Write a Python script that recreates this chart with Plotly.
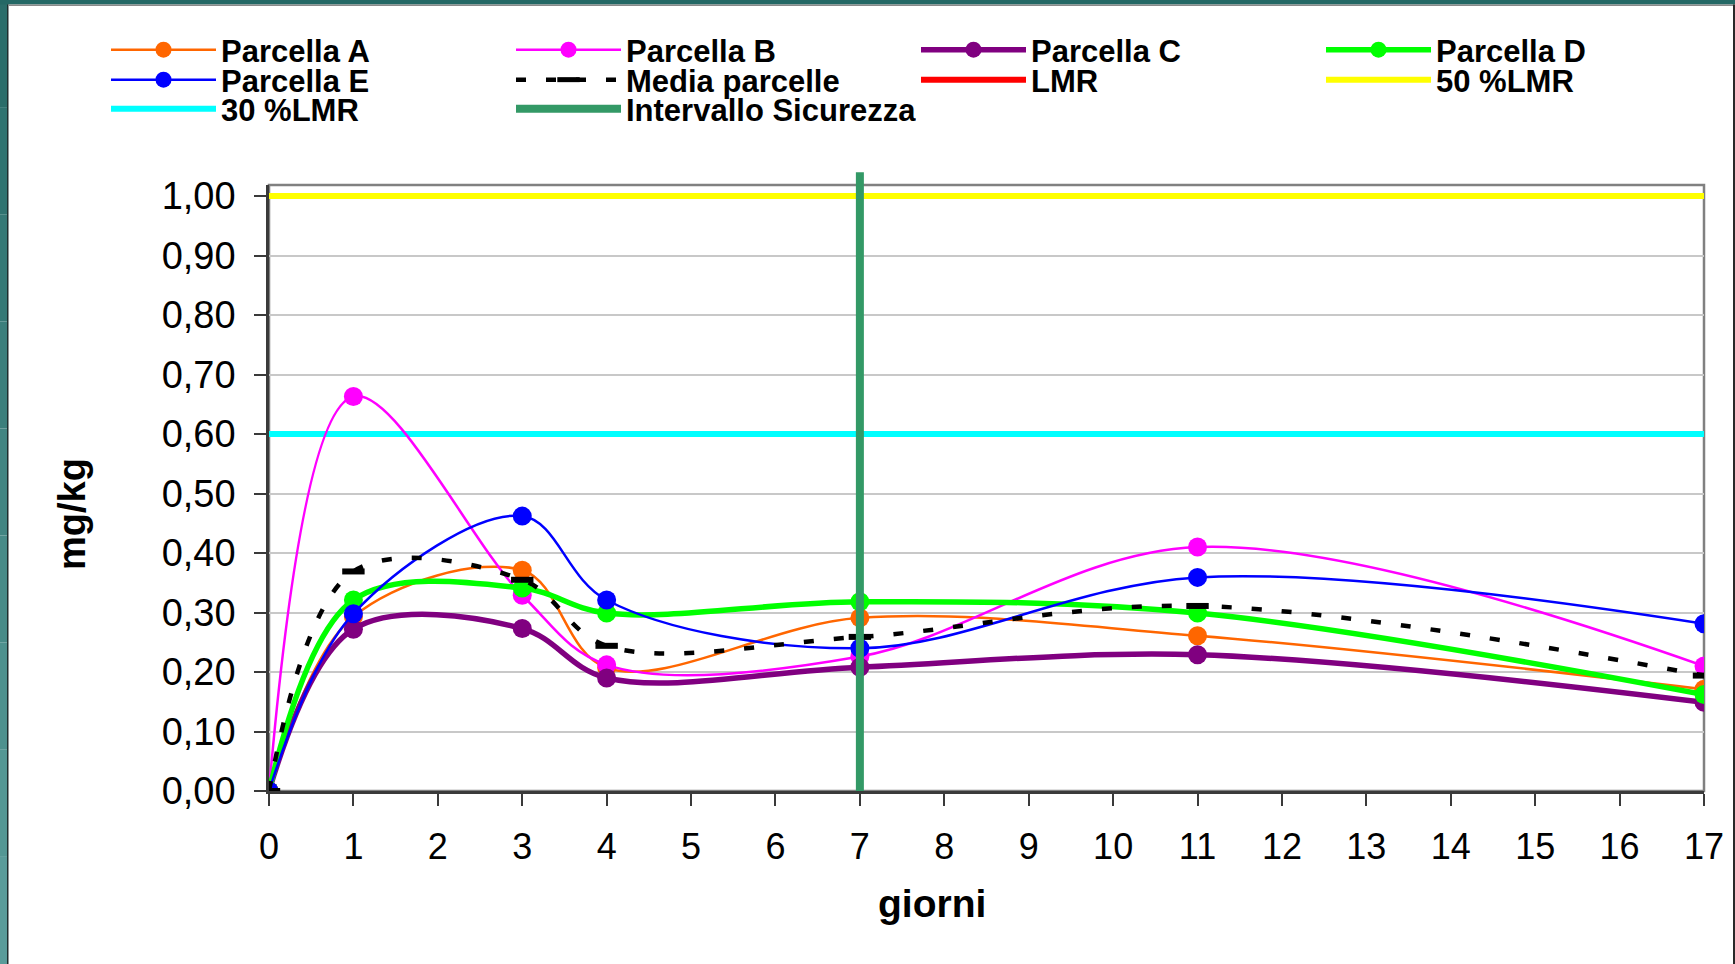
import plotly.graph_objects as go

# ---------------- data ----------------
giorni = [0, 1, 3, 4, 7, 11, 17]
parcella_a = [0, 0.293, 0.371, 0.207, 0.291, 0.261, 0.171]
parcella_b = [0, 0.663, 0.329, 0.212, 0.226, 0.410, 0.210]
parcella_c = [0, 0.272, 0.273, 0.190, 0.208, 0.229, 0.149]
parcella_d = [0, 0.321, 0.341, 0.299, 0.318, 0.299, 0.162]
parcella_e = [0, 0.298, 0.462, 0.321, 0.240, 0.359, 0.281]
media_parcelle = [0, 0.369, 0.355, 0.244, 0.259, 0.311, 0.194]

asse_x = [0, 17]
lmr = 2.0
lmr_50 = 1.0
lmr_30 = 0.6
intervallo_giorno = 7
intervallo_top = 1.04

x_ticks = list(range(0, 18))
y_ticks = [0.0, 0.1, 0.2, 0.3, 0.4, 0.5, 0.6, 0.7, 0.8, 0.9, 1.0]
y_max = 1.0185

# ---------------- layout geometry ----------------
W, H = 1735, 964
L, R, T, B = 269, 31, 185, 173
PW, PH = W - L - R, H - T - B


def px(x):
    return (x - L) / PW


def py(y):
    return (H - B - y) / PH


FONT = "Liberation Sans, Arial, sans-serif"

fig = go.Figure()

# reference lines
fig.add_trace(go.Scatter(x=asse_x, y=[lmr, lmr], mode="lines", name="LMR",
                         line=dict(color="#FF0000", width=6),
                         legend="legend2", legendrank=3, hoverinfo="skip"))
fig.add_trace(go.Scatter(x=asse_x, y=[lmr_50, lmr_50], mode="lines", name="50 %LMR",
                         line=dict(color="#FFFF00", width=6),
                         legend="legend2", legendrank=4))
fig.add_trace(go.Scatter(x=asse_x, y=[lmr_30, lmr_30], mode="lines", name="30 %LMR",
                         line=dict(color="#00FFFF", width=6),
                         legend="legend3", legendrank=1))

series = [
    ("Parcella A", parcella_a, "#FF6600", 2.5, "legend", 1),
    ("Parcella B", parcella_b, "#FF00FF", 2.5, "legend", 2),
    ("Parcella C", parcella_c, "#800080", 5.5, "legend", 3),
    ("Parcella D", parcella_d, "#00FF00", 5.5, "legend", 4),
    ("Parcella E", parcella_e, "#0000FF", 2.5, "legend2", 1),
]
for name, vals, col, w, leg, rank in series:
    fig.add_trace(go.Scatter(
        x=giorni, y=vals, name=name, mode="lines+markers",
        line=dict(color=col, width=w, shape="spline", smoothing=1.0),
        marker=dict(color=col, size=19, symbol="circle"),
        legend=leg, legendrank=rank))

fig.add_trace(go.Scatter(
    x=giorni, y=media_parcelle, name="Media parcelle", mode="lines+markers",
    line=dict(color="#000000", width=4.5, dash="10px,20px", shape="spline", smoothing=1.0),
    marker=dict(symbol="line-ew", size=16, line=dict(color="#000000", width=6)),
    legend="legend2", legendrank=2))

# Intervallo sicurezza as a vertical line (shape, shown in legend)
shapes = []
shapes.append(dict(type="line", xref="x", yref="paper", x0=intervallo_giorno, x1=intervallo_giorno,
                   y0=0, y1=intervallo_top / y_max, line=dict(color="#339966", width=8),
                   layer="above", showlegend=True, name="Intervallo Sicurezza",
                   legend="legend3", legendrank=2))

# frame / background decoration
teal_steps = ["#2a6d6a", "#2f7370", "#357976", "#3b7f7c", "#418582", "#478b88",
              "#4d918e", "#539794", "#599c9a"]
n = len(teal_steps)
for i, c in enumerate(teal_steps):
    shapes.append(dict(type="rect", xref="paper", yref="paper", layer="below",
                       x0=px(0), x1=px(7), y0=py(H * (i + 1) / n), y1=py(H * i / n),
                       fillcolor=c, line=dict(width=0)))
shapes.append(dict(type="rect", xref="paper", yref="paper", layer="below",
                   x0=px(7), x1=px(8.5), y0=py(H), y1=py(0),
                   fillcolor="#1e2e2e", line=dict(width=0)))
shapes.append(dict(type="rect", xref="paper", yref="paper", layer="below",
                   x0=px(0), x1=px(W), y0=py(4.5), y1=py(0),
                   fillcolor="#246865", line=dict(width=0)))
shapes.append(dict(type="rect", xref="paper", yref="paper", layer="below",
                   x0=px(8.5), x1=px(W), y0=py(6), y1=py(4.5),
                   fillcolor="#8a8a8a", line=dict(width=0)))
shapes.append(dict(type="rect", xref="paper", yref="paper", layer="below",
                   x0=px(W - 2), x1=px(W), y0=py(H), y1=py(4.5),
                   fillcolor="#2a2a2a", line=dict(width=0)))
# plot area frame (top/right grey)
shapes.append(dict(type="rect", xref="paper", yref="paper", layer="below",
                   x0=0, x1=1, y0=0, y1=1, line=dict(color="#808080", width=2.5)))

ITEMW = 105
legend_common = dict(orientation="h", xanchor="left", yanchor="middle",
                     entrywidth=405 - (ITEMW + 15), entrywidthmode="pixels", itemwidth=ITEMW,
                     bgcolor="rgba(0,0,0,0)", borderwidth=0, tracegroupgap=0,
                     font=dict(family=FONT, size=31, color="#000000", weight="bold"),
                     itemclick=False, itemdoubleclick=False)

fig.update_layout(
    width=W, height=H,
    margin=dict(l=L, r=R, t=T, b=B, autoexpand=False),
    paper_bgcolor="#FFFFFF", plot_bgcolor="#FFFFFF",
    separators=",.",
    font=dict(family=FONT, color="#000000"),
    showlegend=True,
    legend=dict(**legend_common, x=px(106), y=py(50)),
    legend2=dict(**legend_common, x=px(106), y=py(80)),
    legend3=dict(**legend_common, x=px(106), y=py(109)),
    shapes=shapes,
    xaxis=dict(range=[0, 17], tickmode="array", tickvals=x_ticks,
               ticktext=[str(v) for v in x_ticks],
               showgrid=False, zeroline=False, showline=True,
               linecolor="#3a3a3a", linewidth=2.5,
               ticks="outside", ticklen=12, tickwidth=1.5, tickcolor="#3a3a3a",
               tickfont=dict(family=FONT, size=36, color="#000000"),
               ticklabelstandoff=10),
    yaxis=dict(range=[0, y_max], tickmode="array", tickvals=y_ticks,
               tickformat=".2f",
               showgrid=True, gridcolor="#c8c8c8", gridwidth=1.5,
               zeroline=False, showline=True,
               linecolor="#3a3a3a", linewidth=2.5,
               ticks="outside", ticklen=12, tickwidth=1.5, tickcolor="#3a3a3a",
               tickfont=dict(family=FONT, size=38, color="#000000"),
               ticklabelstandoff=11),
    annotations=[
        dict(text="mg/kg", xref="paper", yref="paper", x=px(72), y=py(514),
             textangle=-90, showarrow=False, xanchor="center", yanchor="middle",
             font=dict(family=FONT, size=38, color="#000000", weight="bold")),
        dict(text="giorni", xref="paper", yref="paper", x=px(932), y=py(903),
             showarrow=False, xanchor="center", yanchor="middle",
             font=dict(family=FONT, size=39, color="#000000", weight="bold")),
    ],
)

fig.write_html("out.html", config={"displayModeBar": False},
               post_script="document.body.style.margin='0px';document.body.style.padding='0px';")
